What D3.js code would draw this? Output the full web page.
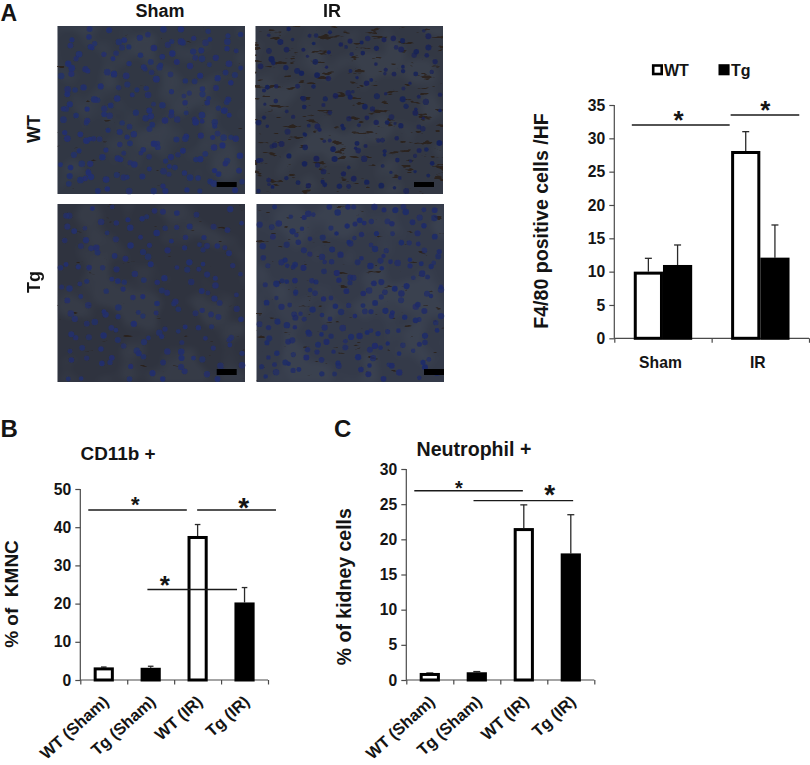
<!DOCTYPE html>
<html>
<head>
<meta charset="utf-8">
<script src="https://cdnjs.cloudflare.com/ajax/libs/d3/7.8.5/d3.min.js"></script>
<style>
html,body{margin:0;padding:0;background:#fff;}
svg{display:block;}
text{font-family:"Liberation Sans",Arial,sans-serif;font-weight:700;fill:#141414;white-space:pre;}
</style>
</head>
<body>
<div id="chart"></div>
<script>
// ---------- data ----------
const groupLabelsA = ["Sham", "IR"];
const wtValuesA = [10, 28.1];
const wtErrorTopA = [12, 31];
const tgValuesA = [11, 12.1];
const tgErrorTopA = [14, 17];
const ticksA = [0, 5, 10, 15, 20, 25, 30, 35];

const categoriesBC = ["WT (Sham)", "Tg (Sham)", "WT (IR)", "Tg (IR)"];
const fillKindBC = ["open", "solid", "open", "solid"];
const valuesB = [3.3, 3.2, 37.7, 20.3];
const errorTopB = [3.4, 3.6, 40.7, 24.2];
const ticksB = [0, 10, 20, 30, 40, 50];
const valuesC = [1.0, 1.1, 21.6, 18.0];
const errorTopC = [1.0, 1.2, 24.9, 23.5];
const ticksC = [0, 5, 10, 15, 20, 25, 30];

// significance bars: [from, to, level] in axis units
const sigA = [[0.18, 1.185, 32], [1.195, 1.90, 33.5]];
const sigB = [[0.17, 2.27, 44.5], [2.49, 4.17, 44.5], [1.43, 3.34, 23.7]];
const sigC = [[0.17, 2.48, 26.9], [1.43, 3.55, 25.5]];
// stars: [x, level of baseline, font size]
const starsA = [[0.66, 31.4, 26], [1.55, 32.9, 26]];
const starsB = [[1.17, 44, 22], [3.48, 42.8, 28], [1.80, 22.5, 26]];
const starsC = [[1.12, 26.3, 20], [3.05, 25, 28]];

// micrograph panels
const micrographs = [
  {id:"wtSham", col:0, row:0, start:7,   count:225, rMin:2.4, rMax:3.4, ink:"#222f6e", base:"#313744", brown:0.08, bar:[216.7,182,20,5]},
  {id:"wtIR",   col:1, row:0, start:311, count:165, rMin:1.6, rMax:3.1, ink:"#182258", base:"#333844", brown:0.72, bar:[414,182,20,5]},
  {id:"tgSham", col:0, row:1, start:613, count:170, rMin:2.3, rMax:3.3, ink:"#232f6c", base:"#2f333f", brown:0.15, bar:[216.7,369,20,6]},
  {id:"tgIR",   col:1, row:1, start:947, count:225, rMin:2.2, rMax:3.3, ink:"#1f2b68", base:"#343a49", brown:0.3,  bar:[424,369,20,6]}
];

// ---------- set-up ----------
const svg = d3.select("#chart").append("svg").attr("width", 810).attr("height", 765);
const defs = svg.append("defs");
const AXIS = "#4a4a4a";
const frac = v => v - Math.floor(v);

function noiseFilter(id, freq, seed, octaves, color, k, t, blur) {
  const f = defs.append("filter").attr("id", id)
    .attr("x", 0).attr("y", 0).attr("width", 1).attr("height", 1)
    .attr("color-interpolation-filters", "sRGB");
  f.append("feTurbulence").attr("type", "fractalNoise")
    .attr("baseFrequency", freq).attr("numOctaves", octaves).attr("seed", seed);
  f.append("feColorMatrix").attr("type", "matrix").attr("values",
    `0 0 0 0 ${color[0]} 0 0 0 0 ${color[1]} 0 0 0 0 ${color[2]} ${k} 0 0 0 ${-t}`);
  f.append("feGaussianBlur").attr("stdDeviation", blur);
}
defs.append("filter").attr("id", "soft").append("feGaussianBlur").attr("stdDeviation", 0.4);

micrographs.forEach(m => {
  noiseFilter("pale-" + m.id, "0.025", m.start % 97, 2, [0.33, 0.37, 0.42], 6, 2.9, 2);
  noiseFilter("brown-" + m.id, "0.06 0.2", m.start % 89, 3, [0.16, 0.11, 0.07], 14, 8.6 + (1 - m.brown) * 2.6, 0.7);
});

// ---------- micrographs ----------
const colX = [57.5, 255.5];
const rowY = [26, 204];
const rowH = [168, 178];
const panelW = 187.5;
const mg = svg.append("g");
micrographs.forEach(m => {
  const x = colX[m.col] + (m.row === 1 && m.col === 1 ? 1 : 0), y = rowY[m.row], h = rowH[m.row];
  const g = mg.append("g");
  g.append("rect").attr("x", x).attr("y", y).attr("width", panelW).attr("height", h).attr("fill", m.base);
  g.append("rect").attr("x", x).attr("y", y).attr("width", panelW).attr("height", h)
    .attr("fill", "#000").attr("opacity", 0.2).attr("filter", `url(#pale-${m.id})`);
  g.append("rect").attr("x", x).attr("y", y).attr("width", panelW).attr("height", h)
    .attr("fill", "#000").attr("opacity", 0.75).attr("filter", `url(#brown-${m.id})`);
  // nuclei texture: an even scatter with a fixed quadratic wobble, not chart data
  const sx = d3.scaleLinear().domain([0, 1]).range([x + 3, x + panelW - 3]);
  const sy = d3.scaleLinear().domain([0, 1]).range([y + 3, y + h - 3]);
  const wobX = i => (frac(i * i * 0.0031830989) - 0.5) * 14;
  const wobY = i => (frac(i * i * 0.0022360679 + 0.37) - 0.5) * 14;
  g.append("g").attr("filter", "url(#soft)").selectAll("circle")
    .data(d3.range(m.start, m.start + m.count))
    .join("circle")
    .attr("cx", i => Math.min(x + panelW - 3, Math.max(x + 3, sx(frac(i * 0.7548776662)) + wobX(i))))
    .attr("cy", i => Math.min(y + h - 3, Math.max(y + 3, sy(frac(i * 0.5698402910)) + wobY(i))))
    .attr("r", i => m.rMin + (m.rMax - m.rMin) * frac(i * 0.6180339887))
    .attr("opacity", i => 0.7 + 0.3 * frac(i * 0.4142135))
    .attr("fill", m.ink);
  g.append("rect").attr("x", m.bar[0]).attr("y", m.bar[1]).attr("width", m.bar[2]).attr("height", m.bar[3]).attr("fill", "#000");
});

// ---------- text helpers ----------
function label(str, x, y, size, opts = {}) {
  const t = svg.append("text").attr("font-size", size).attr("text-anchor", opts.anchor || "middle").text(str);
  t.attr("transform", `translate(${x},${y})` + (opts.rot ? ` rotate(${opts.rot})` : ""));
  return t;
}

label("A", 0.5, 21, 23, {anchor: "start"});
label("B", 0.5, 437, 24, {anchor: "start"});
label("C", 334, 437, 24, {anchor: "start"});
label("Sham", 160, 16.5, 18);
label("IR", 332, 16.5, 18);
label("WT", 40, 129, 18, {rot: -90});
label("Tg", 40, 282, 18, {rot: -90});

// ---------- chart helpers ----------
function drawAxes(x, y, ticks, xTicks, tickLen) {
  const gy = svg.append("g").attr("transform", `translate(${x.range()[0]},0)`)
    .call(d3.axisLeft(y).tickValues(ticks).tickSize(5).tickPadding(4).tickFormat(d3.format("d")));
  const gx = svg.append("g").attr("transform", `translate(0,${y(0)})`)
    .call(d3.axisBottom(x).tickValues(xTicks).tickSizeOuter(0).tickSize(tickLen).tickFormat(""));
  [gy, gx].forEach(g => {
    g.selectAll("path,line").attr("stroke", AXIS).attr("stroke-width", 1.2);
    g.select(".domain").attr("d", g === gy
      ? `M0,${y(ticks[ticks.length - 1])}V${y(0)}` : `M${x.range()[0]},0H${x.range()[1]}`);
  });
  gy.selectAll("text").attr("font-size", 15.7).attr("font-family", null).attr("fill", "#141414");
}

function drawBar(cx, halfW, value, errTop, kind, y, capHalf) {
  svg.append("line").attr("x1", cx).attr("x2", cx).attr("y1", y(value)).attr("y2", y(errTop))
    .attr("stroke", "#2a2a2a").attr("stroke-width", 1.3);
  svg.append("line").attr("x1", cx - capHalf).attr("x2", cx + capHalf).attr("y1", y(errTop)).attr("y2", y(errTop))
    .attr("stroke", "#2a2a2a").attr("stroke-width", 1.3);
  // the value is the outer top edge of the outlined bar
  svg.append("rect").attr("x", cx - halfW + 1.5).attr("width", 2 * halfW - 3)
    .attr("y", y(value) + 1.5).attr("height", y(0) - y(value) - 1.5)
    .attr("fill", kind === "open" ? "#fff" : "#000").attr("stroke", "#000").attr("stroke-width", 3);
}

function drawSig(x, y, sig, stars) {
  sig.forEach(s => svg.append("line").attr("x1", x(s[0])).attr("x2", x(s[1])).attr("y1", y(s[2])).attr("y2", y(s[2]))
    .attr("stroke", "#1a1a1a").attr("stroke-width", 1.4));
  stars.forEach(s => label("*", x(s[0]), y(s[1]), s[2]));
}

// ---------- panel A ----------
{
  const x = d3.scaleLinear().domain([0, 2]).range([614.3, 809]);
  const y = d3.scaleLinear().domain([0, 35]).range([338.3, 105]);
  drawAxes(x, y, ticksA, [0, 1, 2], 4.5);
  const hw = x(0.15) - x(0);
  groupLabelsA.forEach((g, i) => {
    const cx = i + 0.5;
    drawBar(x(cx) - hw, hw, wtValuesA[i], wtErrorTopA[i], "open", y, 3.5);
    drawBar(x(cx) + hw, hw, tgValuesA[i], tgErrorTopA[i], "solid", y, 3.5);
    label(g, x(cx) - 2.5, 368, 15.7);
  });
  drawSig(x, y, sigA, starsA);
  label("F4/80 positive cells /HF", 548, 221, 19.6, {rot: -90});
  // legend
  [["WT", 653.2, 664, "#fff"], ["Tg", 719.8, 731, "#000"]].forEach(l => {
    svg.append("rect").attr("x", l[1]).attr("y", 65.5).attr("width", 8.5).attr("height", 8.5)
      .attr("fill", l[3]).attr("stroke", "#000").attr("stroke-width", 2.6);
    label(l[0], l[2], 76, 16, {anchor: "start"});
  });
}

// ---------- panels B and C ----------
function drawCategoryPanel(x, y, values, errs, ticks, sig, stars, capHalf) {
  drawAxes(x, y, ticks, [0, 1, 2, 3, 4], 4.5);
  const hw = x(0.215) - x(0);
  categoriesBC.forEach((c, i) => {
    drawBar(x(i + 0.5), hw, values[i], errs[i], fillKindBC[i], y, capHalf);
    const ax = x(i + 0.5) + 6, ay = y(0) + 23;
    label(c, ax, ay, 16.4, {anchor: "end", rot: -42});
  });
  drawSig(x, y, sig, stars);
}

drawCategoryPanel(
  d3.scaleLinear().domain([0, 4]).range([80.3, 268]),
  d3.scaleLinear().domain([0, 50]).range([680, 489]),
  valuesB, errorTopB, ticksB, sigB, starsB, 2.8);
label("CD11b +", 80.5, 460, 18.9, {anchor: "start"});
label("% of  KMNC", 17.5, 594, 19, {rot: -90});

drawCategoryPanel(
  d3.scaleLinear().domain([0, 4]).range([406.3, 594.3]),
  d3.scaleLinear().domain([0, 30]).range([680, 469]),
  valuesC, errorTopC, ticksC, sigC, starsC, 3.5);
label("Neutrophil +", 416.5, 455.5, 19.6, {anchor: "start"});
label("% of kidney cells", 350.7, 586.7, 19.5, {rot: -90});
</script>
</body>
</html>
